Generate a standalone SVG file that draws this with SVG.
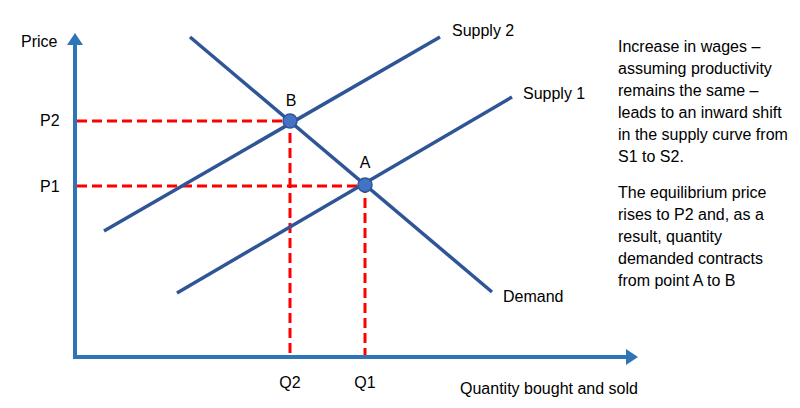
<svg xmlns="http://www.w3.org/2000/svg" width="800" height="408" viewBox="0 0 800 408">
<style>
text{font-family:"Liberation Sans",Arial,sans-serif;font-size:16px;fill:#000}
.axis{stroke:#2e75b6;stroke-width:4;fill:none}
.curve{stroke:#2f5597;stroke-width:3.5;fill:none;stroke-linecap:butt}
.dash{stroke:#ff0000;stroke-width:3;stroke-dasharray:10 5;fill:none}
.dot{fill:#4472c4;stroke:#2f5597;stroke-width:1.5}
</style>
<defs>
<marker id="arr" markerWidth="4" markerHeight="4" refX="0" refY="2" orient="auto" markerUnits="strokeWidth">
<path d="M0,0 L3,2 L0,4 z" fill="#2e75b6"/>
</marker>
</defs>
<rect width="800" height="408" fill="#fff"/>
<g id="connectors">
<path class="dash" d="M77,121 H290 V356"/>
<path class="dash" d="M77,186 H365 V356"/>
<path class="axis" d="M75,357 V45" marker-end="url(#arr)"/>
<path class="axis" d="M73,357 H626" marker-end="url(#arr)"/>
</g>
<g id="demand">
<line class="curve" x1="190" y1="37" x2="492" y2="292"/>
<text x="503" y="302">Demand</text>
</g>
<g id="supply2">
<line class="curve" x1="104" y1="231" x2="440" y2="37"/>
<text x="452" y="36">Supply 2</text>
</g>
<g id="supply1">
<line class="curve" x1="177" y1="293" x2="512" y2="97"/>
<text x="523" y="99">Supply 1</text>
</g>
<g id="pointB">
<circle class="dot" cx="290" cy="121" r="7"/>
<text x="291" y="106" text-anchor="middle">B</text>
</g>
<g id="pointA">
<circle class="dot" cx="365" cy="185" r="7"/>
<text x="365" y="168" text-anchor="middle">A</text>
</g>
<g id="labels">
<text x="21" y="47">Price</text>
<text x="40" y="126">P2</text>
<text x="40" y="192">P1</text>
<text x="290" y="388" text-anchor="middle">Q2</text>
<text x="365" y="388" text-anchor="middle">Q1</text>
<text x="460" y="394">Quantity bought and sold</text>
</g>
<g id="explanation">
<text x="618" y="52">Increase in wages –</text>
<text x="618" y="74">assuming productivity</text>
<text x="618" y="96">remains the same –</text>
<text x="618" y="118">leads to an inward shift</text>
<text x="618" y="140">in the supply curve from</text>
<text x="618" y="162">S1 to S2.</text>
<text x="618" y="198">The equilibrium price</text>
<text x="618" y="220">rises to P2 and, as a</text>
<text x="618" y="242">result, quantity</text>
<text x="618" y="264">demanded contracts</text>
<text x="618" y="286">from point A to B</text>
</g>
</svg>
